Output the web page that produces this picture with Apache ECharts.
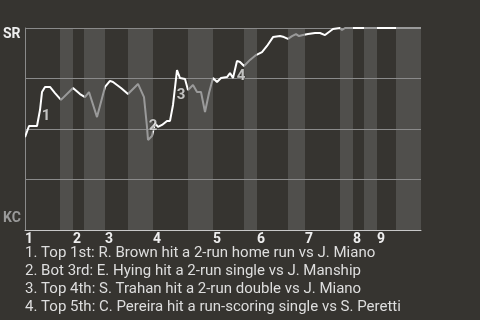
<!DOCTYPE html>
<html><head><meta charset="utf-8">
<script src="https://cdn.jsdelivr.net/npm/echarts@6/dist/echarts.min.js"></script>
<style>html,body{margin:0;padding:0;background:#363430;}#c{width:480px;height:320px;}</style>
</head><body><div id="c"></div>
<script>
// x = play index (game progress), y = SR win probability (%)
const playX = [0,1,3,3.75,4.25,5,6.25,7.5,9,12,13.75,15,16,18,20,21.25,22,23,24,25.75,28.25,29.75,30.5,30.75,31.75,32.5,33.25,34.25,35.5,36.25,37,38,38.75,39.25,40,40.75,42,43,44,45,46,47,48,49,50.5,51.25,52,53,53.75,54.75,56.25,57.75,59.25,60.5,62,63.75,64.75,65.75,66.75,67.75,68.5,69.5,70.75,72.5,73.75,75,77,78.75,79.25,80,99];
const winProb = [46.0,51.5,51.5,59.4,68.3,70.8,70.8,67.8,64.4,70.3,67.3,65.8,68.3,55.9,70.8,73.8,73.3,71.8,70.3,67.3,72.3,65.8,51.0,44.6,46.5,53.0,51.0,52.0,54.0,54.0,61.9,79.2,75.2,75.7,74.8,69.3,71.8,68.3,68.3,58.4,67.8,75.2,73.3,75.2,75.7,77.7,75.2,83.7,83.2,81.2,84.2,86.6,88.1,91.1,95.5,96.0,95.5,94.6,96.0,97.0,96.0,96.5,97.0,97.5,97.5,96.5,99.5,100,99.0,100,100];
const topStarts = [0,12,20,32,47,58,70,82,88];
const botStarts = [8.75,14.75,25.75,40.75,54.75,65.75,78.75,84.75,92.75];
const gameEnd = 99;
const inningLabels = ['1','2','3','4','5','6','7','8','9'];
const teamTop = 'SR', teamBottom = 'KC';
const keyPlayIdx = [3,24,31,47];          // index into playX/winProb
const keyPlayLabels = ['1','2','3','4'];
const keyPlayOffsets = [[6,6],[1,-10],[4,25],[4,15]];
const notes = [
  '1. Top 1st: R. Brown hit a 2-run home run vs J. Miano',
  '2. Bot 3rd: E. Hying hit a 2-run single vs J. Manship',
  '3. Top 4th: S. Trahan hit a 2-run double vs J. Miano',
  '4. Top 5th: C. Pereira hit a run-scoring single vs S. Peretti'
];

const chart = echarts.init(document.getElementById('c'), null, {renderer:'canvas'});
const lineData = playX.map((x,i)=>[x,winProb[i]]);
const bands = botStarts.map((b,i)=>[{xAxis:b},{xAxis: i+1<topStarts.length ? topStarts[i+1] : gameEnd}]);
const pieces = [];
topStarts.forEach((t,i)=>{
  pieces.push({gte:t, lt:botStarts[i], color:'#ffffff'});
  pieces.push({gte:botStarts[i], lte: i+1<topStarts.length ? topStarts[i+1] : gameEnd, color:'#9a9a9a'});
});
const keyPts = keyPlayIdx.map((idx,i)=>({
  value:[playX[idx],winProb[idx]],
  label:{show:true, formatter:keyPlayLabels[i], offset:keyPlayOffsets[i]}
}));

chart.setOption({
  backgroundColor:'#363430',
  animation:false,
  grid:{left:25,right:59,top:28,bottom:90},
  xAxis:{type:'value',min:0,max:gameEnd,z:2,
    axisLine:{show:true,lineStyle:{color:'#c8c8c8',width:1}},
    axisTick:{show:false},
    splitLine:{show:false},
    axisLabel:{customValues:topStarts, formatter:(v)=>inningLabels[topStarts.indexOf(v)] || '',
      align:'left', color:'#eeeeee', fontFamily:'Roboto', fontWeight:'bold', fontSize:14, margin:2}
  },
  yAxis:{type:'value',min:0,max:100,interval:25,z:2,
    axisLine:{show:true,lineStyle:{color:'#8a8a8a',width:1}},
    axisTick:{show:false}, axisLabel:{show:false},
    splitLine:{show:true,lineStyle:{color:'#8a8a8a',width:1}}
  },
  visualMap:{show:false,type:'piecewise',dimension:0,seriesIndex:0,pieces:pieces},
  series:[
    {type:'line',data:lineData,symbol:'none',lineStyle:{width:2},clip:false,z:3},
    {type:'line',data:[],z:-1,silent:true,
     markArea:{silent:true,itemStyle:{color:'#504f4c'},data:bands}},
    {type:'scatter',data:keyPts,symbolSize:0,z:4,
     label:{show:true,position:'inside',color:'#e6e6e6',fontFamily:'Roboto',fontWeight:'bold',fontSize:15,
       textBorderColor:'#363430',textBorderWidth:1}}
  ],
  graphic:[
    {type:'text',left:3,top:27,style:{text:teamTop,font:'bold 14px Roboto',fill:'#eeeeee'}},
    {type:'text',left:3,top:211,style:{text:teamBottom,font:'bold 14px Roboto',fill:'#9a9a9a'}},
    ...notes.map((t,i)=>({type:'text',left:25,top:246+i*18,style:{text:t,font:'15px Roboto',fill:'#dedede'}}))
  ]
});
</script></body></html>
